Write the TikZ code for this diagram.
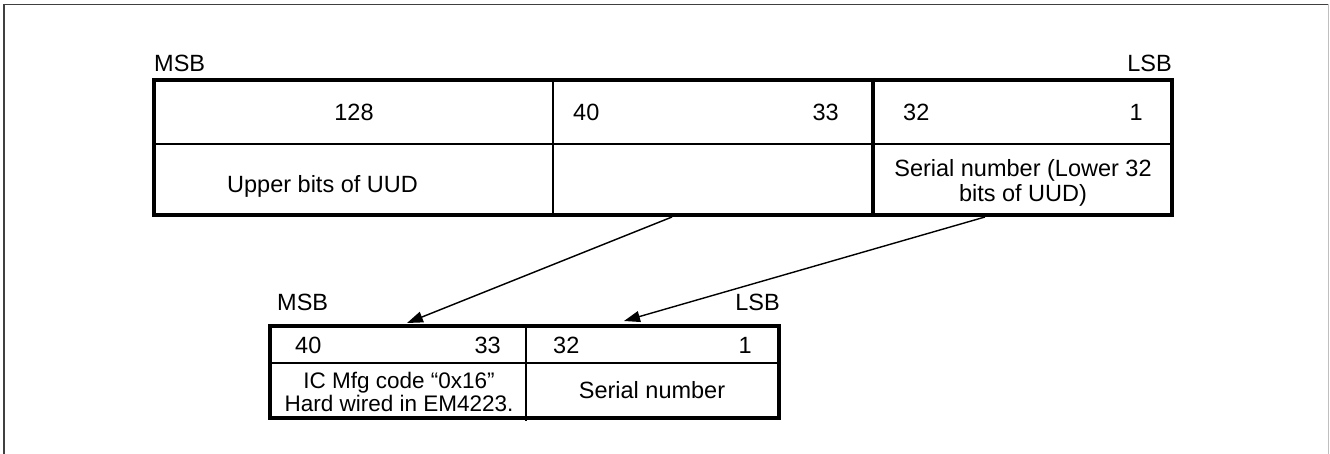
\documentclass[tikz,border=0pt]{standalone}
\usepackage{fontspec}
\setmainfont{Liberation Sans}
\usetikzlibrary{arrows.meta}
\begin{document}
\begin{tikzpicture}[x=1pt,y=-1pt,
  txt/.style={inner sep=0pt, font=\fontsize{23.5}{25}\selectfont},
  small/.style={inner sep=0pt, font=\fontsize{22.5}{24}\selectfont},
  thin/.style={line width=1.8pt},
  thick/.style={line width=4.8pt, line join=miter},
  frame/.style={line width=1.3pt, draw=black!75},
  arr/.style={line width=1.4pt, -{Triangle[length=16pt,width=11pt]}}]
\useasboundingbox (0,0) rectangle (1330,454);
\draw[frame] (4,454) -- (4,4.5) -- (1328.5,4.5);
\draw[line width=1pt, draw=black!25] (1328.5,4.5) -- (1328.5,454);

% ---------- top table ----------
\coordinate (T-nw) at (154,80);
\coordinate (T-se) at (1172,215);
\draw[thin] (154,144) -- (1172,144);
\draw[thin] (553,80) -- (553,215);
\draw[thick] (873,78) -- (873,215);
\draw[thick] (T-nw) rectangle (T-se);

\node[txt, anchor=base west] (msbT) at (154,72) {MSB};
\node[txt, anchor=base east] (lsbT) at (1172,72) {LSB};
\node[txt, anchor=base] (n128) at (354,121) {128};
\node[txt, anchor=base west] (n40T) at (573,121) {40};
\node[txt, anchor=base east] (n33T) at (839,121) {33};
\node[txt, anchor=base west] (n32T) at (903,121) {32};
\node[txt, anchor=base east] (n1T) at (1143,121) {1};
\node[txt, anchor=base west] (upper) at (227,193) {Upper bits of UUD};
\node[txt, anchor=base] (serT1) at (1023,177) {Serial number (Lower 32};
\node[txt, anchor=base] (serT2) at (1023,202) {bits of UUD)};

% ---------- bottom table ----------
\coordinate (B-nw) at (270,326);
\coordinate (B-se) at (779,418);
\draw[thin] (270,363) -- (779,363);
\draw[thin] (526,326) -- (526,421);
\draw[thick] (B-nw) rectangle (B-se);

\node[txt, anchor=base west] (msbB) at (277,310) {MSB};
\node[txt, anchor=base east] (lsbB) at (780,310) {LSB};
\node[txt, anchor=base west] (n40B) at (295,353) {40};
\node[txt, anchor=base east] (n33B) at (501,353) {33};
\node[txt, anchor=base west] (n32B) at (553,353) {32};
\node[txt, anchor=base east] (n1B) at (752,353) {1};
\node[small, anchor=base] (ic1) at (399,388) {IC Mfg code “0x16”};
\node[small, anchor=base] (ic2) at (399,411) {Hard wired in EM4223.};
\node[txt, anchor=base] (serB) at (652,398) {Serial number};

% ---------- arrows ----------
\coordinate (a1s) at (672,217);
\coordinate (a1e) at (407,323);
\coordinate (a2s) at (985,217);
\coordinate (a2e) at (624,321);
\draw[arr] (a1s) -- (a1e);
\draw[arr] (a2s) -- (a2e);
\end{tikzpicture}
\end{document}
